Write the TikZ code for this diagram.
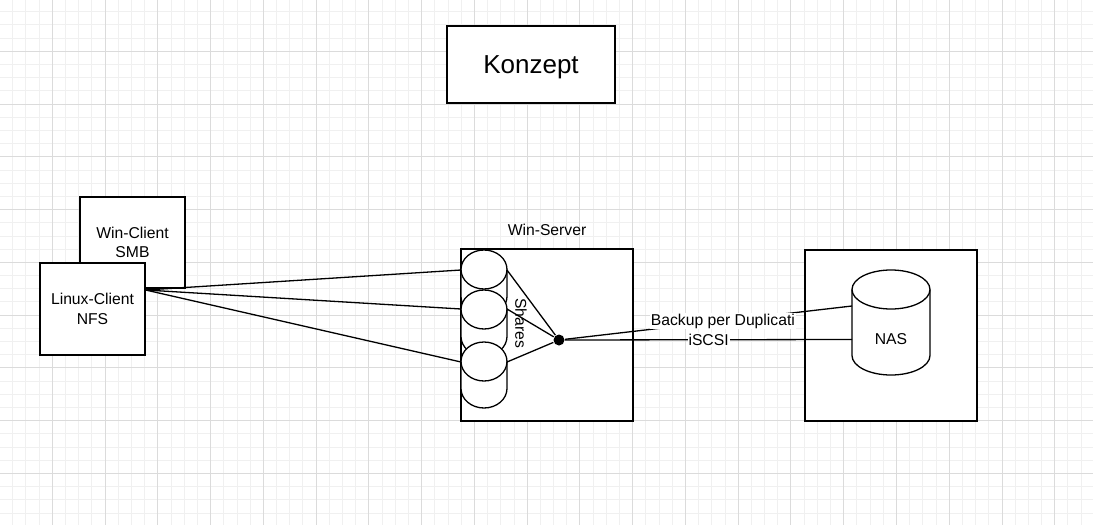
\documentclass[tikz,border=0pt]{standalone}
\usepackage{fontspec}
\setmainfont{Liberation Sans}
\newcommand{\lblfont}{\fontsize{15.7}{19.5}\selectfont}
\newcommand{\titlefont}{\fontsize{26}{30}\selectfont}
\newcommand{\drum}[5]{%
	\coordinate (#1) at (#2,#3);
	\draw[fill=white] ({#2-#4/2},{#3-#5/2+19.5}) -- ({#2-#4/2},{#3+#5/2-19.5})
		arc[start angle=180, end angle=0, x radius={#4/2}, y radius=19.5]
		-- ({#2+#4/2},{#3-#5/2+19.5})
		arc[start angle=0, end angle=-180, x radius={#4/2}, y radius=19.5] -- cycle;
	\draw ({#2-#4/2},{#3-#5/2+19.5})
		arc[start angle=180, end angle=0, x radius={#4/2}, y radius=19.5];
}
\tikzset{
gridminor/.style={line width=0.9pt, draw=black!6},
gridmajor/.style={line width=0.9pt, draw=black!14},
box/.style={draw, fill=white, line width=1.3pt, inner sep=0pt, align=center, font=\lblfont},
hub/.style={circle, fill=black, inner sep=0pt, minimum size=11pt},
edgelabel/.style={fill=white, inner sep=1pt, font=\lblfont}
}

\begin{document}
\begin{tikzpicture}[x=1pt, y=-1pt, line width=1.3pt]
	\useasboundingbox (0,0) rectangle (1093,525);
	\clip (0,0) rectangle (1093,525);
	\fill[white] (0,0) rectangle (1093,525);
	\foreach \k in {-4,...,79}
		\draw[gridminor] ({52.3+13.19*\k},0) -- ({52.3+13.19*\k},525);
	\foreach \k in {-3,...,36}
		\draw[gridminor] (0,{51.3+13.19*\k}) -- (1093,{51.3+13.19*\k});
	\foreach \k in {-1,...,19}
		\draw[gridmajor] ({52.3+52.76*\k},0) -- ({52.3+52.76*\k},525);
	\foreach \k in {-1,...,9}
		\draw[gridmajor] (0,{51.3+52.76*\k}) -- (1093,{51.3+52.76*\k});

	\node[box, minimum width=168pt, minimum height=77pt, font=\titlefont, text depth=0pt] (konzept) at (531,64.5) {Konzept};
	\node[box, minimum width=105pt, minimum height=91pt] (win) at (132.5,242.5) {Win-Client\\SMB};
	\node[box, minimum width=105pt, minimum height=92pt] (linux) at (92.5,309) {Linux-Client\\NFS};
	\node[box, minimum width=172pt, minimum height=172pt] (server) at (547,335) {};
	\node[font=\lblfont] (servername) at (547,230) {Win-Server};
	\node[box, minimum width=172pt, minimum height=171pt] (nasbox) at (891,335.5) {};
	\drum{sh1}{484}{283}{46}{66}
	\drum{sh2}{484}{323}{46}{66}
	\drum{sh3}{484}{375}{46}{66}
	\node[font=\lblfont, rotate=-90] (shares) at (521,323) {Shares};
	\drum{nas}{891}{322.5}{78}{105}
	\node[font=\lblfont] (nastext) at (891,339) {NAS};
	\node[hub] (hub) at (559,340) {};
	\coordinate (cl) at ([yshift=19pt]linux.east);

	\draw (cl) -- ([shift={(-23,-13)}]sh1);
	\draw (cl) -- ([shift={(-23,-14)}]sh2);
	\draw (cl) -- ([shift={(-23,-13)}]sh3);
	\draw (hub) -- ([shift={(23,-13)}]sh1);
	\draw (hub) -- ([shift={(23,-14)}]sh2);
	\draw (hub) -- ([shift={(23,-13)}]sh3);
	\draw (hub) -- ([shift={(-39,17)}]nas) node[pos=0.5, edgelabel] {iSCSI};
	\draw (hub) -- ([shift={(-39,-16.5)}]nas) node[pos=0.55, edgelabel] {Backup per Duplicati};
\end{tikzpicture}
\end{document}
